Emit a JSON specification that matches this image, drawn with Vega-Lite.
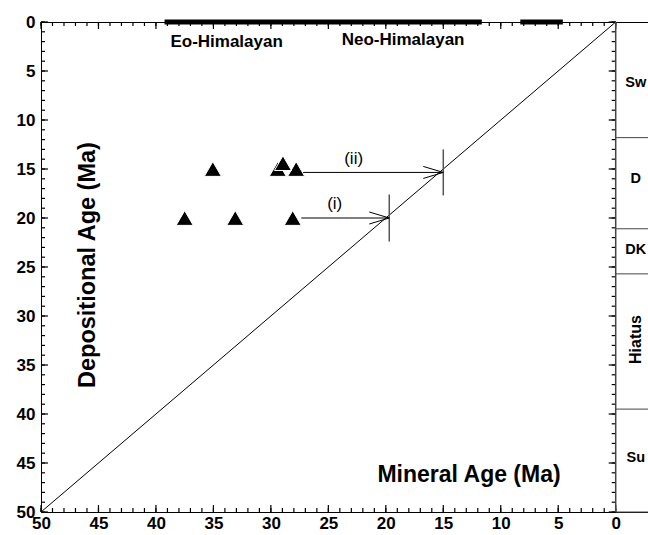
{
  "$schema": "https://vega.github.io/schema/vega-lite/v6.json",
  "width": 607,
  "height": 490,
  "autosize": {"type": "none"},
  "padding": {"left": 41, "top": 22, "right": 0, "bottom": 23},
  "config": {
    "view": {"stroke": null},
    "axis": {"grid": false, "title": null, "tickColor": "black", "domainColor": "black"}
  },
  "datasets": {
    "diag": [{"mineral": 50, "dep": 50, "mineral2": 0, "dep2": 0}],
    "tickvals": [{"v":0},{"v":1},{"v":2},{"v":3},{"v":4},{"v":5},{"v":6},{"v":7},{"v":8},{"v":9},{"v":10},{"v":11},{"v":12},{"v":13},{"v":14},{"v":15},{"v":16},{"v":17},{"v":18},{"v":19},{"v":20},{"v":21},{"v":22},{"v":23},{"v":24},{"v":25},{"v":26},{"v":27},{"v":28},{"v":29},{"v":30},{"v":31},{"v":32},{"v":33},{"v":34},{"v":35},{"v":36},{"v":37},{"v":38},{"v":39},{"v":40},{"v":41},{"v":42},{"v":43},{"v":44},{"v":45},{"v":46},{"v":47},{"v":48},{"v":49},{"v":50}],
    "arrows": [
      {"from": 27.2, "to": 15.0, "dep": 15.35},
      {"from": 27.35, "to": 19.7, "dep": 20.0}
    ],
    "marks": [
      {"mineral": 15.0, "top": 13.0, "bottom": 17.7},
      {"mineral": 19.7, "top": 17.6, "bottom": 22.4}
    ],
    "tips": [
      {"mineral": 15.0, "dep": 15.35},
      {"mineral": 19.7, "dep": 20.0}
    ],
    "events": [
      {"start": 39.25, "end": 11.65, "dep": 0},
      {"start": 8.3, "end": 4.6, "dep": 0}
    ],
    "samples": [
      {"mineral": 35.05, "dep": 15},
      {"mineral": 29.4, "dep": 15},
      {"mineral": 27.8, "dep": 15},
      {"mineral": 28.95, "dep": 14.4},
      {"mineral": 37.5, "dep": 20},
      {"mineral": 33.1, "dep": 20},
      {"mineral": 28.1, "dep": 20}
    ],
    "units": [
      {"unit": "Sw", "top": 0, "bottom": 11.8, "mid": 6.2},
      {"unit": "D", "top": 11.8, "bottom": 21.1, "mid": 16.0},
      {"unit": "DK", "top": 21.1, "bottom": 25.7, "mid": 23.3},
      {"unit": "Hiatus", "top": 25.7, "bottom": 39.5, "mid": 32.4},
      {"unit": "Su", "top": 39.5, "bottom": 50, "mid": 44.5}
    ],
    "labels": [
      {"text": "(ii)", "mineral": 22.8, "dep": 14.0},
      {"text": "(i)", "mineral": 24.45, "dep": 18.6}
    ],
    "phases": [
      {"text": "Eo-Himalayan", "mineral": 33.85, "dep": 2.5},
      {"text": "Neo-Himalayan", "mineral": 18.5, "dep": 2.3}
    ]
  },
  "resolve": {"axis": {"x": "independent", "y": "independent"}},
  "layer": [
    {
      "data": {"name": "diag"},
      "mark": {"type": "rule", "color": "black", "strokeWidth": 1},
      "encoding": {
        "x": {"field": "mineral", "type": "quantitative",
          "scale": {"domain": [-2.81, 50], "reverse": true, "nice": false, "zero": false},
          "axis": {"orient": "bottom", "values": [0, 5, 10, 15, 20, 25, 30, 35, 40, 45, 50], "ticks": false, "labelPadding": 3, "domain": true, "labelFont": "Liberation Sans", "labelFontWeight": "bold", "labelFontSize": 17, "labelColor": "black", "labelFlush": false}},
        "y": {"field": "dep", "type": "quantitative",
          "scale": {"domain": [0, 50], "reverse": true, "nice": false, "zero": false},
          "axis": {"orient": "left", "values": [0, 5, 10, 15, 20, 25, 30, 35, 40, 45, 50], "ticks": false, "labelPadding": 6, "domain": true, "labelFont": "Liberation Sans", "labelFontWeight": "bold", "labelFontSize": 17, "labelColor": "black", "labelFlush": false}},
        "x2": {"field": "mineral2"},
        "y2": {"field": "dep2"}
      }
    },
    {
      "data": {"name": "tickvals"},
      "mark": {"type": "rule", "color": "black", "strokeWidth": 1.2},
      "encoding": {
        "x": {"field": "v", "type": "quantitative", "axis": null},
        "y": {"datum": 50, "type": "quantitative", "axis": null},
        "y2": {"datum": 49.59}
      }
    },
    {
      "data": {"name": "tickvals"},
      "transform": [{"filter": "datum.v % 5 == 0"}],
      "mark": {"type": "rule", "color": "black", "strokeWidth": 1.2},
      "encoding": {
        "x": {"field": "v", "type": "quantitative", "axis": null},
        "y": {"datum": 50, "type": "quantitative", "axis": null},
        "y2": {"datum": 49.29}
      }
    },
    {
      "data": {"name": "tickvals"},
      "mark": {"type": "rule", "color": "black", "strokeWidth": 1.2},
      "encoding": {
        "x": {"field": "v", "type": "quantitative", "axis": null},
        "y": {"datum": 0, "type": "quantitative", "axis": null},
        "y2": {"datum": 0.41}
      }
    },
    {
      "data": {"name": "tickvals"},
      "transform": [{"filter": "datum.v % 5 == 0"}],
      "mark": {"type": "rule", "color": "black", "strokeWidth": 1.2},
      "encoding": {
        "x": {"field": "v", "type": "quantitative", "axis": null},
        "y": {"datum": 0, "type": "quantitative", "axis": null},
        "y2": {"datum": 0.71}
      }
    },
    {
      "data": {"name": "tickvals"},
      "mark": {"type": "rule", "color": "black", "strokeWidth": 1.2},
      "encoding": {
        "y": {"field": "v", "type": "quantitative", "axis": null},
        "x": {"datum": 50, "type": "quantitative", "axis": null},
        "x2": {"datum": 49.65}
      }
    },
    {
      "data": {"name": "tickvals"},
      "transform": [{"filter": "datum.v % 5 == 0"}],
      "mark": {"type": "rule", "color": "black", "strokeWidth": 1.2},
      "encoding": {
        "y": {"field": "v", "type": "quantitative", "axis": null},
        "x": {"datum": 50, "type": "quantitative", "axis": null},
        "x2": {"datum": 49.39}
      }
    },
    {
      "data": {"name": "tickvals"},
      "mark": {"type": "rule", "color": "black", "strokeWidth": 1.2},
      "encoding": {
        "y": {"field": "v", "type": "quantitative", "axis": null},
        "x": {"datum": 0, "type": "quantitative", "axis": null},
        "x2": {"datum": 0.35}
      }
    },
    {
      "data": {"name": "tickvals"},
      "transform": [{"filter": "datum.v % 5 == 0"}],
      "mark": {"type": "rule", "color": "black", "strokeWidth": 1.2},
      "encoding": {
        "y": {"field": "v", "type": "quantitative", "axis": null},
        "x": {"datum": 0, "type": "quantitative", "axis": null},
        "x2": {"datum": 0.61}
      }
    },
    {
      "data": {"name": "arrows"},
      "mark": {"type": "rule", "color": "black", "strokeWidth": 1},
      "encoding": {
        "x": {"field": "from", "type": "quantitative", "axis": null},
        "x2": {"field": "to"},
        "y": {"field": "dep", "type": "quantitative", "axis": null}
      }
    },
    {
      "data": {"name": "marks"},
      "mark": {"type": "rule", "color": "#555555", "strokeWidth": 1.5},
      "encoding": {
        "x": {"field": "mineral", "type": "quantitative", "axis": null},
        "y": {"field": "top", "type": "quantitative", "axis": null},
        "y2": {"field": "bottom"}
      }
    },
    {
      "data": {"name": "events"},
      "mark": {"type": "rule", "color": "black", "strokeWidth": 5, "strokeCap": "butt"},
      "encoding": {
        "x": {"field": "start", "type": "quantitative",
          "axis": {"orient": "top", "ticks": false, "labels": false, "domain": true, "values": [0, 50]}},
        "x2": {"field": "end"},
        "y": {"field": "dep", "type": "quantitative", "axis": null}
      }
    },
    {
      "data": {"name": "units"},
      "mark": {"type": "rule", "color": "#444444", "strokeWidth": 1},
      "encoding": {
        "x": {"datum": 0, "type": "quantitative", "axis": null},
        "x2": {"datum": -2.81},
        "y": {"field": "bottom", "type": "quantitative", "axis": null}
      }
    },
    {
      "data": {"name": "units"},
      "transform": [{"filter": "datum.unit == 'Sw'"}],
      "mark": {"type": "rule", "color": "#444444", "strokeWidth": 1.5},
      "encoding": {
        "x": {"datum": 0, "type": "quantitative", "axis": null}
      }
    },
    {
      "data": {"name": "units"},
      "transform": [{"filter": "datum.unit != 'Hiatus'"}],
      "mark": {"type": "text", "font": "Liberation Sans", "color": "black", "fontSize": 14.5, "fontWeight": "bold", "align": "center", "baseline": "middle"},
      "encoding": {
        "x": {"datum": -1.75, "type": "quantitative", "axis": null},
        "y": {"field": "mid", "type": "quantitative", "axis": null},
        "text": {"field": "unit"}
      }
    },
    {
      "data": {"name": "units"},
      "transform": [{"filter": "datum.unit == 'Hiatus'"}],
      "mark": {"type": "text", "font": "Liberation Sans", "color": "black", "fontSize": 16, "fontWeight": "bold", "align": "center", "baseline": "middle", "angle": 270},
      "encoding": {
        "x": {"datum": -1.75, "type": "quantitative", "axis": null},
        "y": {"field": "mid", "type": "quantitative", "axis": null},
        "text": {"field": "unit"}
      }
    },
    {
      "data": {"name": "tips"},
      "mark": {"type": "point", "shape": "M-2,-0.6L0,0L-2,0.6", "size": 400, "filled": false, "stroke": "black", "strokeWidth": 1, "opacity": 1},
      "encoding": {
        "x": {"field": "mineral", "type": "quantitative", "axis": null},
        "y": {"field": "dep", "type": "quantitative", "axis": null}
      }
    },
    {
      "data": {"name": "labels"},
      "mark": {"type": "text", "font": "Liberation Sans", "color": "black", "fontSize": 17, "align": "center", "baseline": "middle"},
      "encoding": {
        "x": {"field": "mineral", "type": "quantitative", "axis": null},
        "y": {"field": "dep", "type": "quantitative", "axis": null},
        "text": {"field": "text"}
      }
    },
    {
      "data": {"name": "phases"},
      "mark": {"type": "text", "font": "Liberation Sans", "color": "black", "fontSize": 17, "fontWeight": "bold", "align": "center", "baseline": "alphabetic"},
      "encoding": {
        "x": {"field": "mineral", "type": "quantitative", "axis": null},
        "y": {"field": "dep", "type": "quantitative", "axis": null},
        "text": {"field": "text"}
      }
    },
    {
      "data": {"values": [{"text": "Depositional Age (Ma)", "mineral": 45.27, "dep": 24.8}]},
      "mark": {"type": "text", "font": "Liberation Sans", "color": "black", "fontSize": 23.5, "fontWeight": "bold", "align": "center", "baseline": "alphabetic", "angle": 270},
      "encoding": {
        "x": {"field": "mineral", "type": "quantitative", "axis": null},
        "y": {"field": "dep", "type": "quantitative", "axis": null},
        "text": {"field": "text"}
      }
    },
    {
      "data": {"values": [{"text": "Mineral Age (Ma)", "mineral": 12.76, "dep": 46.9}]},
      "mark": {"type": "text", "font": "Liberation Sans", "color": "black", "fontSize": 23, "fontWeight": "bold", "align": "center", "baseline": "alphabetic"},
      "encoding": {
        "x": {"field": "mineral", "type": "quantitative", "axis": null},
        "y": {"field": "dep", "type": "quantitative", "axis": null},
        "text": {"field": "text"}
      }
    },
    {
      "data": {"name": "samples"},
      "mark": {"type": "point", "shape": "triangle-up", "size": 290, "filled": true, "color": "black", "stroke": "white", "strokeWidth": 1, "opacity": 1},
      "encoding": {
        "x": {"field": "mineral", "type": "quantitative", "axis": null},
        "y": {"field": "dep", "type": "quantitative", "axis": null}
      }
    }
  ]
}
